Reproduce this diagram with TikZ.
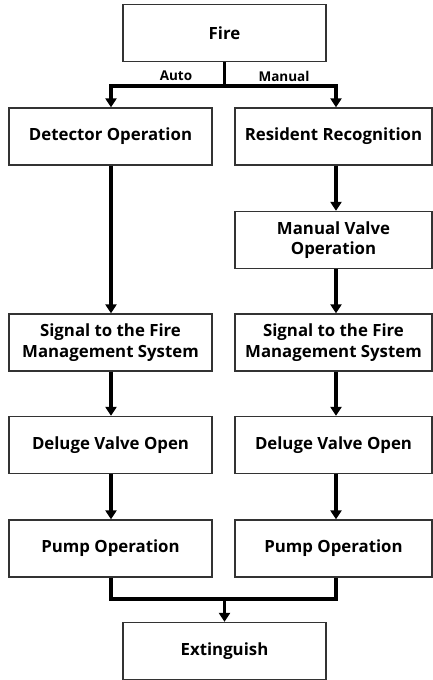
\documentclass[tikz,border=0pt]{standalone}
\usepackage{fontspec}
\setmainfont{Open Sans}
\usetikzlibrary{arrows.meta}
\tikzset{
  box/.style={draw=black!80, line width=1.3pt, fill=white, minimum height=57pt, inner sep=0pt, align=center, font=\bfseries\fontsize{16.8}{20.5}\selectfont},
  lbox/.style={box, minimum width=203pt},
  rbox/.style={box, minimum width=197pt},
  conn/.style={line width=3.6pt, draw=black},
  arr/.style={conn, -{Triangle[width=11pt,length=9pt]}},
  lab/.style={font=\bfseries\fontsize{13.5}{15}\selectfont, inner sep=0pt}
}
\begin{document}
\begin{tikzpicture}[x=1pt,y=-1pt]
\useasboundingbox (0,0) rectangle (433,680);
\coordinate (xl) at (111,0);
\coordinate (xr) at (336,0);
\node[box, minimum width=203pt] (fire) at (224.5,33) {Fire};
\node[lbox] (det) at (110.5,136.5) {Detector Operation};
\node[rbox] (res) at (333.5,136.5) {Resident Recognition};
\node[rbox] (man) at (333.5,240) {Manual Valve\\Operation};
\node[lbox] (sigl) at (110.5,342.5) {Signal to the Fire\\Management System};
\node[rbox] (sigr) at (333.5,342.5) {Signal to the Fire\\Management System};
\node[lbox] (dell) at (110.5,445) {Deluge Valve Open};
\node[rbox] (delr) at (333.5,445) {Deluge Valve Open};
\node[lbox] (puml) at (110.5,548.5) {Pump Operation};
\node[rbox] (pumr) at (333.5,548.5) {Pump Operation};
\node[box, minimum width=203pt] (ext) at (224.5,651) {Extinguish};
\node[lab] (auto) at (176,76) {Auto};
\node[lab] (manl) at (284,76) {Manual};
\coordinate (j1) at (224.5,86);
\coordinate (j2) at (224.5,599);
\draw[conn] (fire.south) -- (j1);
\draw[arr] (j1) -| (det.north -| xl);
\draw[arr] (j1) -| (res.north -| xr);
\draw[arr] (det.south -| xl) -- (sigl.north -| xl);
\draw[arr] (sigl.south -| xl) -- (dell.north -| xl);
\draw[arr] (dell.south -| xl) -- (puml.north -| xl);
\draw[arr] (res.south -| xr) -- (man.north -| xr);
\draw[arr] (man.south -| xr) -- (sigr.north -| xr);
\draw[arr] (sigr.south -| xr) -- (delr.north -| xr);
\draw[arr] (delr.south -| xr) -- (pumr.north -| xr);
\draw[conn] (puml.south -| xl) |- (j2) -| (pumr.south -| xr);
\draw[arr] (j2) -- (ext.north);
\end{tikzpicture}
\end{document}
